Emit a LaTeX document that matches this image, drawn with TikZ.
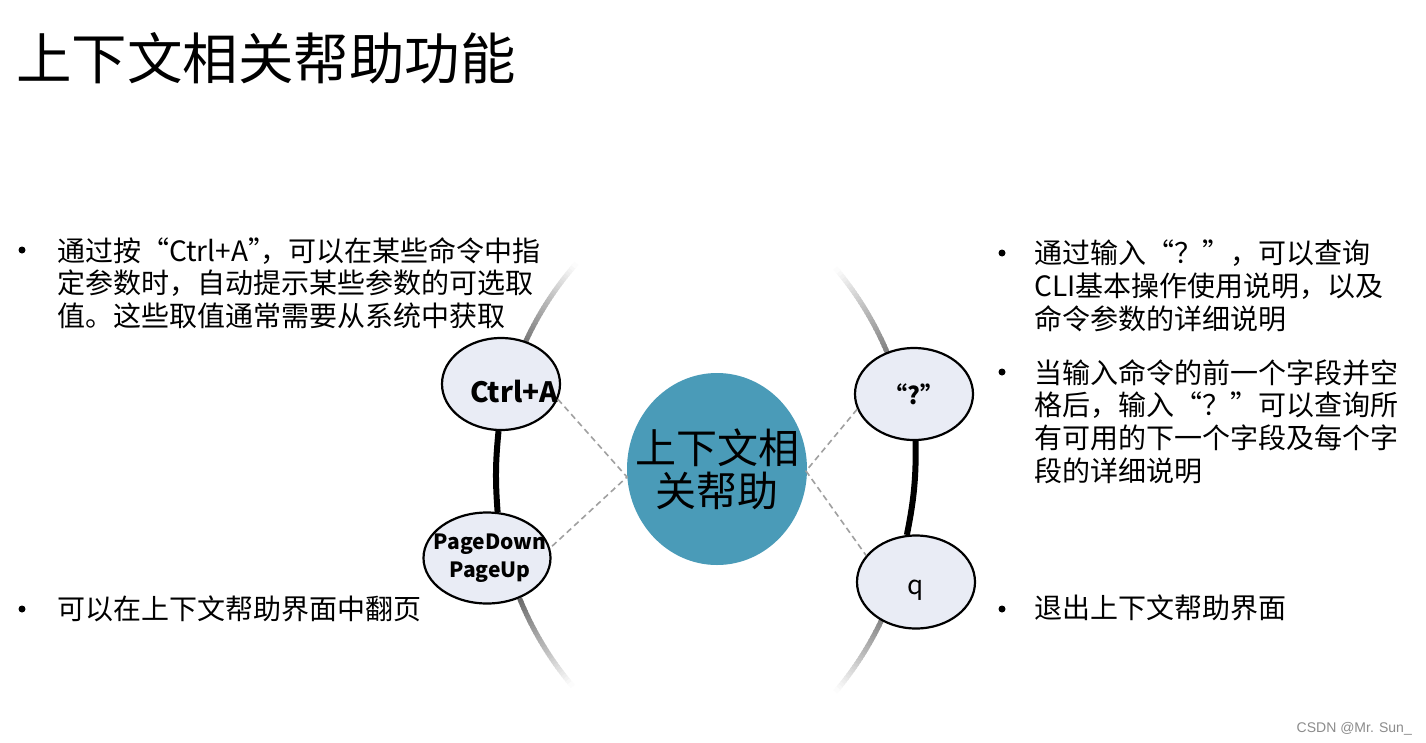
\documentclass[tikz,border=0pt]{standalone}
\usepackage{fontspec}
\setmainfont{Noto Sans CJK SC}
\newfontfamily\wmfont{Liberation Sans}
\usetikzlibrary{shapes.geometric}
\definecolor{hubblue}{RGB}{74,155,184}
\definecolor{ellfill}{RGB}{233,236,245}
\definecolor{dashgray}{RGB}{160,160,160}
\definecolor{wmgray}{RGB}{140,140,140}
\newcommand\fsz[2]{\fontsize{#1}{#2}\selectfont}
\newcommand\narrowq{\makebox[0.45em][l]{”}}
\newcommand\fadearc[5]{%
  \foreach \i in {0,...,29}{%
    \pgfmathsetmacro\ta{#4+(#5-#4)*\i/30}%
    \pgfmathsetmacro\tb{#4+(#5-#4)*(\i+1.4)/30}%
    \pgfmathsetmacro\tlo{min(\ta,\tb)}%
    \pgfmathsetmacro\thi{max(\ta,\tb)}%
    \pgfmathtruncatemacro\pc{58*(1-\i/30)}%
    \draw[fadeline, black!\pc!white] plot[domain=\tlo:\thi, samples=3] ({#1+#3*cos(\x)},{#2+#3*sin(\x)});
  }}
\tikzset{
  fadeline/.style={line width=5, line cap=butt},
  keynode/.style={ellipse, draw=black, line width=2.2, fill=ellfill, minimum width=118, minimum height=92, inner sep=0},
  hubnode/.style={ellipse, fill=hubblue, minimum width=180, minimum height=192, inner sep=0},
  blackline/.style={line width=6, black},
  dashline/.style={draw=dashgray, line width=1.6, dash pattern=on 6pt off 4pt},
  para/.style={anchor=north west, align=left, inner sep=0, font=\fsz{28}{32.7}},
  oneline/.style={anchor=west, inner sep=0, font=\fsz{28}{32.7}},
  bul/.style={circle, fill=black, inner sep=0, minimum size=7},
}
\begin{document}
\begin{tikzpicture}[x=1pt,y=-1pt]
\useasboundingbox (0,0) rectangle (1426,742);
\fill[white] (0,0) rectangle (1426,742);

% fading ends of the two big arcs
\fadearc{820}{477}{324}{203}{221}
\fadearc{820}{477}{324}{158}{140}
\fadearc{585}{480}{328}{-20}{-40}
\fadearc{585}{480}{328}{22}{40}

% title
\node[anchor=west, inner sep=0, font=\fsz{55.5}{60}] (title) at (16,58) {上下文相关帮助功能};

% nodes
\node[hubnode, label={[align=center, font=\fsz{41}{43}]center:上下文相\\关帮助}] (hub) at (717,469) {};
\node[keynode, label={[font=\fsz{28}{32}\bfseries, xshift=13pt, yshift=-8pt]center:Ctrl+A}] (ca) at (501,384) {};
\node[keynode, minimum width=127, minimum height=91, label={[align=center, font=\fsz{21}{28}\bfseries, xshift=3pt]center:PageDown\\PageUp}] (pd) at (487,558) {};
\node[keynode, font=\fsz{24}{28}\bfseries] (qm) at (914,394) {“?”};
\node[keynode, minimum height=93, label={[font=\fsz{26}{30}, yshift=-8pt]center:q}] (qq) at (916,582) {};

% connectors
\coordinate (vl) at (627,477);
\coordinate (vr) at (806,471);
\draw[blackline] (ca.267) to[bend right=5] (pd.77);
\draw[blackline] (qm.272) to[bend left=6] (qq.101);
\draw[dashline] (ca.-15) -- (vl) -- (pd.9);
\draw[dashline] (qm.195) -- (vr) -- (qq.152);

% bullets
\node[bul] (b1) at (22,250) {};
\node[bul] (b2) at (22,609) {};
\node[bul] (b3) at (1002,253) {};
\node[bul] (b4) at (1002,372) {};
\node[bul] (b5) at (1002,609) {};

% texts
\node[para] (lt1) at (57,237) {通过按“Ctrl+A\narrowq，可以在某些命令中指\\定参数时，自动提示某些参数的可选取\\值。这些取值通常需要从系统中获取};
\node[oneline] (lt2) at (57,609) {可以在上下文帮助界面中翻页};
\node[para] (rt1) at (1034,240) {通过输入“？”，可以查询\\CLI基本操作使用说明，以及\\命令参数的详细说明};
\node[para] (rt2) at (1034,359) {当输入命令的前一个字段并空\\格后，输入“？”可以查询所\\有可用的下一个字段及每个字\\段的详细说明};
\node[oneline] (rt3) at (1034,608) {退出上下文帮助界面};

% watermark
\node[anchor=base east, inner sep=0, font=\wmfont\fsz{14}{16}, text=wmgray] (wm) at (1412,732) {CSDN @Mr. Sun\_};
\end{tikzpicture}
\end{document}
